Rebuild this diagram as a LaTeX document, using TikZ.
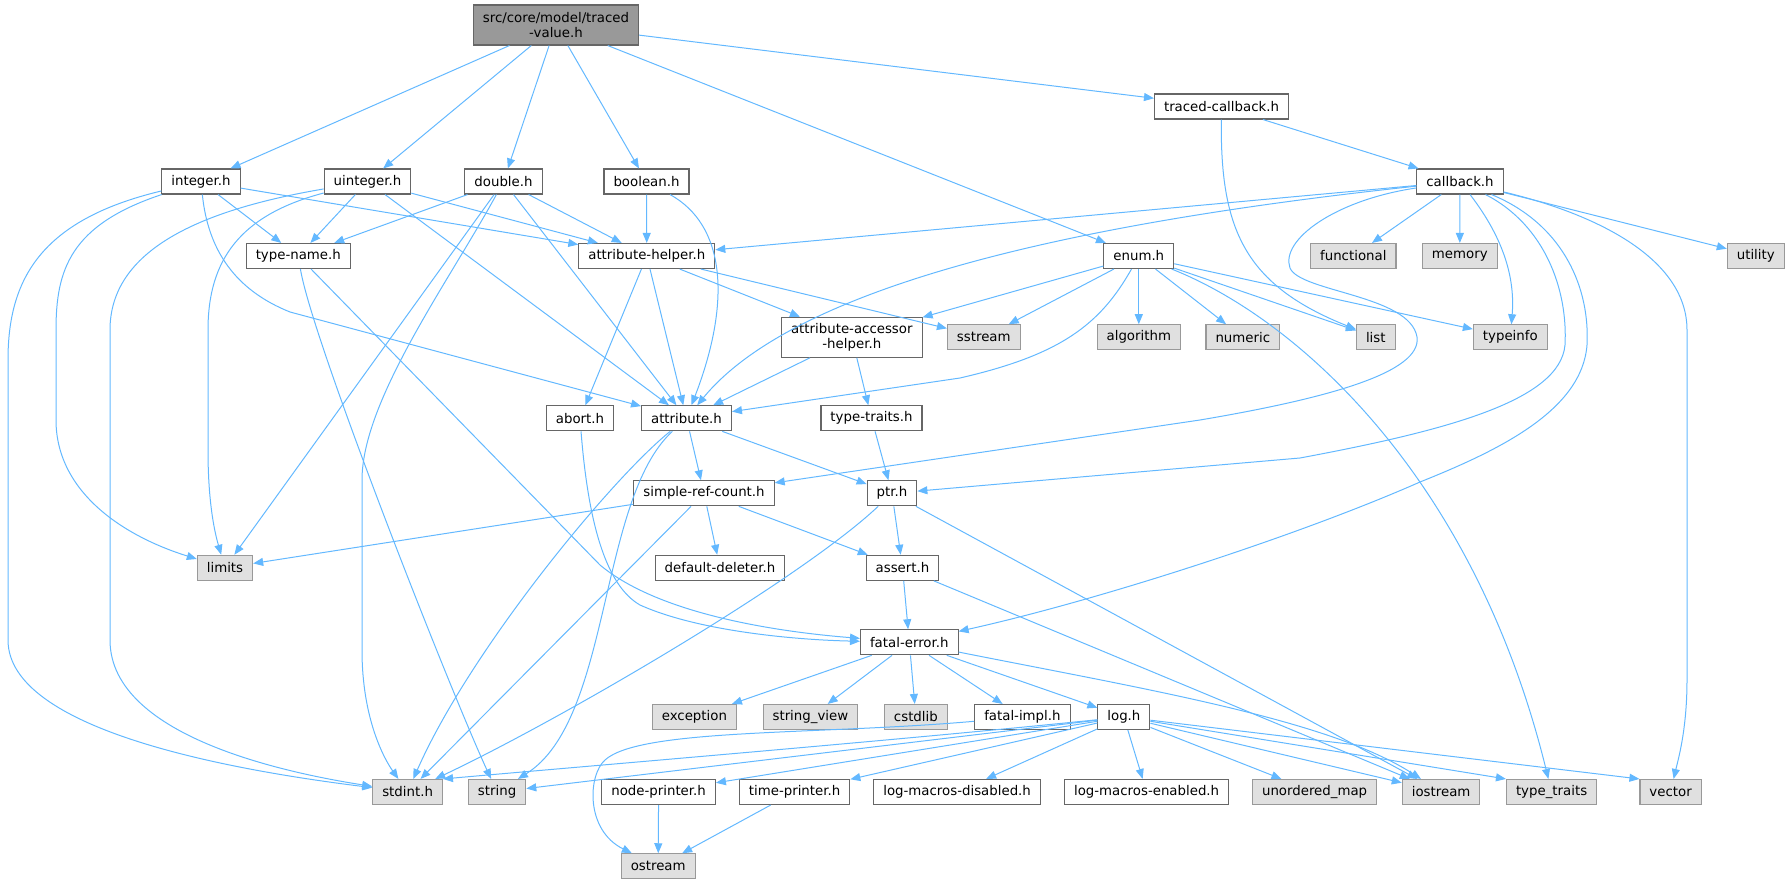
\documentclass[tikz,border=0pt]{standalone}
\usepackage{fontspec}
\setmainfont{DejaVu Sans}
\usetikzlibrary{arrows.meta}
\definecolor{edgeblue}{HTML}{63B8FF}
\definecolor{boxline}{HTML}{666666}
\definecolor{sysline}{HTML}{999999}
\definecolor{sysfill}{HTML}{E0E0E0}
\definecolor{mainfill}{HTML}{999999}

\begin{document}
\begin{tikzpicture}[x=1pt, y=-1pt, node distance=100pt, >={Triangle[length=10pt,width=8pt]},
  block/.style={rectangle, draw=boxline, fill=white, line width=1.1pt, font=\fontsize{13.33}{15}\selectfont, inner xsep=9.5pt, inner ysep=3pt, minimum height=25pt, align=center},
  sysblock/.style={block, draw=sysline, fill=sysfill},
  topblock/.style={block, fill=mainfill, minimum height=40pt},
  link/.style={->, draw=edgeblue, line width=1pt}]
  {
  \useasboundingbox (0,0) rectangle (1792,885);

  \node[topblock] (traced) at (556,25) {src/core/model/traced\\-value.h};
  \node[block] (tcallback) at (1221.5,106.5) {traced-callback.h};

  \node[block] (integer) at (201,181.5) {integer.h};
  \node[block, right of=integer, node distance=166.5pt] (uinteger) {uinteger.h};
  \node[block, right of=uinteger, node distance=136pt] (double) {double.h};
  \node[block, right of=double, node distance=143pt] (boolean) {boolean.h};
  \node[block, right of=boolean, node distance=813.5pt] (callback) {callback.h};

  \node[block] (typename) at (298.3,256) {type-name.h};
  \node[block, right of=typename, node distance=348.5pt] (attrhelper) {attribute-helper.h};
  \node[block, right of=attrhelper, node distance=492pt] (enum) {enum.h};
  \node[sysblock, right of=enum, node distance=214.5pt] (functional) {functional};
  \node[sysblock, right of=functional, node distance=106.5pt] (memory) {memory};
  \node[sysblock, right of=memory, node distance=296pt] (utility) {utility};

  \node[block, minimum height=40pt] (accessor) at (851.8,337.3) {attribute-accessor\\-helper.h};
  \node[sysblock, right of=accessor, node distance=132pt] (sstream) {sstream};
  \node[sysblock, right of=sstream, node distance=155pt] (algorithm) {algorithm};
  \node[sysblock, right of=algorithm, node distance=104pt] (numeric) {numeric};
  \node[sysblock, right of=numeric, node distance=133pt] (list) {list};
  \node[sysblock, right of=list, node distance=134.5pt] (typeinfo) {typeinfo};

  \node[block] (abort) at (580,418.3) {abort.h};
  \node[block, right of=abort, node distance=106.5pt] (attribute) {attribute.h};
  \node[block, right of=attribute, node distance=185pt] (typetraits) {type-traits.h};

  \node[block] (simpleref) at (704,493.3) {simple-ref-count.h};
  \node[block, right of=simpleref, node distance=188pt] (ptr) {ptr.h};

  \node[sysblock] (limits) at (225,567.8) {limits};
  \node[block, right of=limits, node distance=495pt] (deleter) {default-deleter.h};
  \node[block, right of=deleter, node distance=182.5pt] (assert) {assert.h};

  \node[block] (fatalerror) at (909.3,642.3) {fatal-error.h};

  \node[sysblock] (exception) at (694.4,717) {exception};
  \node[sysblock, right of=exception, node distance=116pt] (stringview) {string\_view};
  \node[sysblock, right of=stringview, node distance=105.5pt] (cstdlib) {cstdlib};
  \node[block, right of=cstdlib, node distance=106.5pt] (fatalimpl) {fatal-impl.h};
  \node[block, right of=fatalimpl, node distance=101.5pt] (log) {log.h};

  \node[sysblock] (stdint) at (407.6,792) {stdint.h};
  \node[sysblock, right of=stdint, node distance=89.5pt] (string) {string};
  \node[block, right of=string, node distance=161.5pt] (nodeprinter) {node-printer.h};
  \node[block, right of=nodeprinter, node distance=136pt] (timeprinter) {time-printer.h};
  \node[block, right of=timeprinter, node distance=162.5pt] (logdis) {log-macros-disabled.h};
  \node[block, right of=logdis, node distance=189.5pt] (logen) {log-macros-enabled.h};
  \node[sysblock, right of=logen, node distance=168pt] (umap) {unordered\_map};
  \node[sysblock, right of=umap, node distance=126.5pt] (iostream) {iostream};
  \node[sysblock, right of=iostream, node distance=110.5pt] (stdtraits) {type\_traits};
  \node[sysblock, right of=stdtraits, node distance=119pt] (vector) {vector};

  \node[sysblock] (ostream) at (658.2,866.3) {ostream};

  \draw[link] (traced) -- (integer);
  \draw[link] (traced) -- (uinteger);
  \draw[link] (traced) -- (double);
  \draw[link] (traced) -- (boolean);
  \draw[link] (traced) -- (enum);
  \draw[link] (traced) -- (tcallback);

  \draw[link] (tcallback) -- (callback);
  \draw[link] (tcallback) .. controls (1220,230) and (1245,285) .. (list);

  \draw[link] (integer) -- (typename);
  \draw[link] (integer) -- (attrhelper);
  \draw[link] (integer) .. controls (208,250) and (235,290) .. (290,312) -- (attribute);
  \draw[link] (integer) .. controls (70,225) and (56,270) .. (56,330) -- (56,420) .. controls (56,490) and (120,535) .. (limits);
  \draw[link] (integer) .. controls (40,220) and (8,280) .. (8,360) -- (8,640) .. controls (8,730) and (230,770) .. (stdint);

  \draw[link] (uinteger) -- (typename);
  \draw[link] (uinteger) -- (attrhelper);
  \draw[link] (uinteger) -- (attribute);
  \draw[link] (uinteger) .. controls (240,215) and (208,260) .. (208,330) -- (208,450) .. controls (208,500) and (214,530) .. (limits);
  \draw[link] (uinteger) .. controls (200,210) and (110,250) .. (110,330) -- (110,640) .. controls (110,740) and (300,775) .. (stdint);

  \draw[link] (double) -- (typename);
  \draw[link] (double) -- (attrhelper);
  \draw[link] (double) -- (attribute);
  \draw[link] (double) -- (limits);
  \draw[link] (double) .. controls (450,280) and (362,400) .. (362,480) -- (362,650) .. controls (362,720) and (385,760) .. (stdint);

  \draw[link] (boolean) -- (attrhelper);
  \draw[link] (boolean) .. controls (725,225) and (732,300) .. (attribute);

  \draw[link] (callback) -- (attrhelper);
  \draw[link] (callback) .. controls (1100,220) and (800,280) .. (attribute);
  \draw[link] (callback) -- (functional);
  \draw[link] (callback) -- (memory);
  \draw[link] (callback) -- (utility);
  \draw[link] (callback) .. controls (1505,240) and (1515,280) .. (typeinfo);
  \draw[link] (callback) .. controls (1335,200) and (1280,240) .. (1290,268) .. controls (1300,292) and (1410,295) .. (1417,337) .. controls (1422,372) and (1330,398) .. (1200,420) -- (simpleref);
  \draw[link] (callback) .. controls (1545,225) and (1568,290) .. (1565,345) .. controls (1560,400) and (1450,430) .. (1300,458) -- (ptr);
  \draw[link] (callback) .. controls (1565,225) and (1590,290) .. (1587,345) .. controls (1582,410) and (1500,450) .. (1420,482) .. controls (1300,535) and (1100,600) .. (fatalerror);
  \draw[link] (callback) .. controls (1600,215) and (1687,260) .. (1687,330) -- (1687,680) .. controls (1687,730) and (1678,760) .. (vector);

  \draw[link] (typename) .. controls (312,340) and (450,690) .. (string);
  \draw[link] (typename) -- (600,565) .. controls (660,615) and (780,632) .. (fatalerror);

  \draw[link] (attrhelper) -- (accessor);
  \draw[link] (attrhelper) -- (sstream);
  \draw[link] (attrhelper) -- (abort);
  \draw[link] (attrhelper) -- (attribute);

  \draw[link] (enum) -- (accessor);
  \draw[link] (enum) -- (sstream);
  \draw[link] (enum) -- (algorithm);
  \draw[link] (enum) -- (numeric);
  \draw[link] (enum) -- (list);
  \draw[link] (enum) -- (typeinfo);
  \draw[link] (enum) .. controls (1100,325) and (1060,355) .. (960,378) -- (attribute);
  \draw[link] (enum) .. controls (1300,320) and (1475,480) .. (stdtraits);

  \draw[link] (accessor) -- (attribute);
  \draw[link] (accessor) -- (typetraits);
  \draw[link] (typetraits) -- (ptr);

  \draw[link] (abort) .. controls (588,520) and (605,585) .. (640,605) .. controls (700,632) and (800,640) .. (fatalerror);

  \draw[link] (attribute) -- (simpleref);
  \draw[link] (attribute) -- (ptr);
  \draw[link] (attribute) .. controls (612,478) and (470,650) .. (stdint);
  \draw[link] (attribute) .. controls (598,500) and (612,720) .. (string);

  \draw[link] (simpleref) -- (limits);
  \draw[link] (simpleref) -- (deleter);
  \draw[link] (simpleref) -- (assert);
  \draw[link] (simpleref) -- (stdint);

  \draw[link] (ptr) -- (assert);
  \draw[link] (ptr) .. controls (800,580) and (560,720) .. (stdint);
  \draw[link] (ptr) -- (iostream);

  \draw[link] (assert) -- (fatalerror);
  \draw[link] (assert) -- (iostream);

  \draw[link] (fatalerror) -- (exception);
  \draw[link] (fatalerror) -- (stringview);
  \draw[link] (fatalerror) -- (cstdlib);
  \draw[link] (fatalerror) -- (fatalimpl);
  \draw[link] (fatalerror) -- (log);
  \draw[link] (fatalerror) .. controls (1150,690) and (1330,720) .. (iostream);

  \draw[link] (fatalimpl) .. controls (820,735) and (640,728) .. (605,760) .. controls (588,775) and (585,830) .. (ostream);

  \draw[link] (log) .. controls (900,740) and (600,765) .. (stdint.north east);
  \draw[link] (log) -- (string);
  \draw[link] (log) -- (nodeprinter);
  \draw[link] (log) -- (timeprinter);
  \draw[link] (log) -- (logdis);
  \draw[link] (log) -- (logen);
  \draw[link] (log) -- (umap);
  \draw[link] (log) -- (iostream);
  \draw[link] (log) -- (stdtraits.north west);
  \draw[link] (log) -- (vector.north west);

  \draw[link] (nodeprinter) -- (ostream);
  \draw[link] (timeprinter) -- (ostream);
  }
\end{tikzpicture}
\end{document}
